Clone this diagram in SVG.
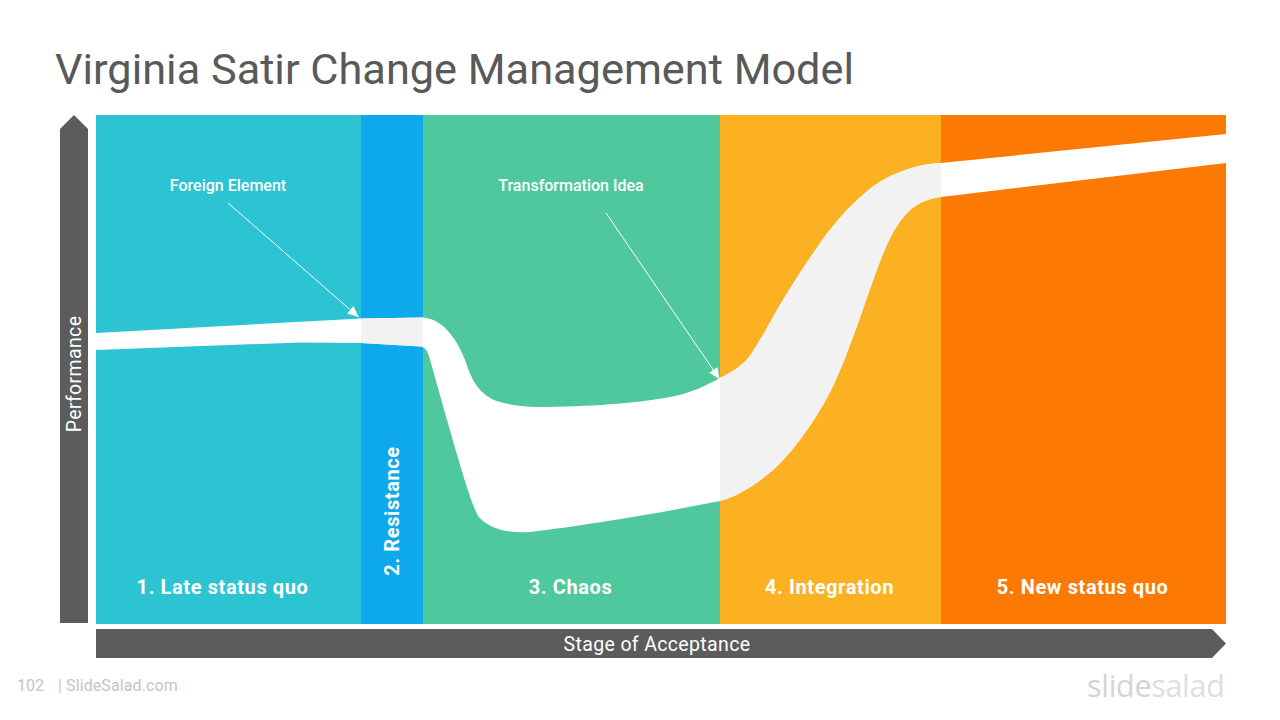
<svg xmlns="http://www.w3.org/2000/svg" width="1280" height="720" viewBox="0 0 1280 720">
<style>
text{font-family:Roboto,"Liberation Sans",sans-serif}
.stage{fill:#fff;font-size:20px;font-weight:700;text-anchor:middle;letter-spacing:.6px}
.note{fill:#fff;font-size:16px;font-weight:500;text-anchor:middle}
.axis{fill:#fff;font-size:19.500px;text-anchor:middle;letter-spacing:.35px}
.foot{fill:#c4c4c4;font-size:16px}
.bar{fill:#5c5c5c}
.arrow{stroke:#fff;stroke-width:1;fill:none;marker-end:url(#head)}
</style>
<defs>
<marker id="head" markerUnits="userSpaceOnUse" markerWidth="12" markerHeight="10" refX="11" refY="5" orient="auto"><path d="M0 0L11 5L0 10Z" fill="#fff"/></marker>
<path id="ribbon" d="M96 333L361 318.500L423 317.500C441 319 455 335 465 360C472 381 478 391 492 399C505 405 525 407 547 407C600 406 640 403 675 396C690 393 705 386 720 378C732 372 742 366 749 357C757 346 767 328 777 310C787 293 800 272 820 243C833 225 848 207 865 193C885 175 915 164 941 163L1226 134L1226 163L941 197C928 198 916 204 907 213C893 228 885 248 876 272C866 300 856 330 847 353C838 376 830 394 820 410C808 430 790 455 773 470C757 484 738 496 720 501C650 515 580 526 530 532C505 534 487 527 478 516C470 500 460 465 447 420C440 395 433 370 429 356C427 350 425 348 421 346.500L361 343L300 342.500L96 350Z"/>
<clipPath id="clipRes"><rect x="361" y="115" width="62" height="509"/></clipPath>
<clipPath id="clipInt"><rect x="720" y="115" width="221" height="509"/></clipPath>
</defs>
<text id="title" x="55" y="84" font-size="43.300" fill="#595959">Virginia Satir Change Management Model</text>
<g id="stage-1"><rect x="96" y="115" width="265" height="509" fill="#2cc4d3"/></g>
<g id="stage-2"><rect x="361" y="115" width="62" height="509" fill="#0ea9ec"/></g>
<g id="stage-3"><rect x="423" y="115" width="297" height="509" fill="#4fc89e"/></g>
<g id="stage-4"><rect x="720" y="115" width="221" height="509" fill="#fbb122"/></g>
<g id="stage-5"><rect x="941" y="115" width="285" height="509" fill="#fc7a03"/></g>
<g id="curve">
<use href="#ribbon" fill="#fff"/>
<use href="#ribbon" fill="#f2f2f2" clip-path="url(#clipRes)"/>
<use href="#ribbon" fill="#f2f2f2" clip-path="url(#clipInt)"/>
</g>
<g id="connectors">
<line class="arrow" x1="228" y1="203" x2="358.500" y2="317"/>
<line class="arrow" x1="606" y1="213" x2="719.500" y2="379"/>
</g>
<g id="labels">
<text class="stage" x="222.500" y="594">1. Late status quo</text>
<text class="stage" transform="translate(399 511) rotate(-90)">2. Resistance</text>
<text class="stage" x="570.500" y="594">3. Chaos</text>
<text class="stage" x="829.500" y="594">4. Integration</text>
<text class="stage" x="1082.500" y="594">5. New status quo</text>
<text class="note" x="228" y="190.500">Foreign Element</text>
<text class="note" x="571" y="190.500">Transformation Idea</text>
</g>
<g id="axis-performance">
<path class="bar" d="M60 129L74 115L88 129V623H60Z"/>
<text class="axis" transform="translate(81 374) rotate(-90)">Performance</text>
</g>
<g id="axis-acceptance">
<path class="bar" d="M96 629H1212L1226 643.500L1212 658H96Z"/>
<text class="axis" x="657" y="651">Stage of Acceptance</text>
</g>
<g id="footer">
<text class="foot" x="17" y="691">102</text>
<text class="foot" x="58" y="691" letter-spacing=".1">| SlideSalad.com</text>
<text x="1087" y="697" font-size="30.500" fill="#d4d4d4" style="font-family:'Open Sans',sans-serif;letter-spacing:-.3px"><tspan>slide</tspan><tspan fill="#dedede">salad</tspan></text>
</g>
</svg>
